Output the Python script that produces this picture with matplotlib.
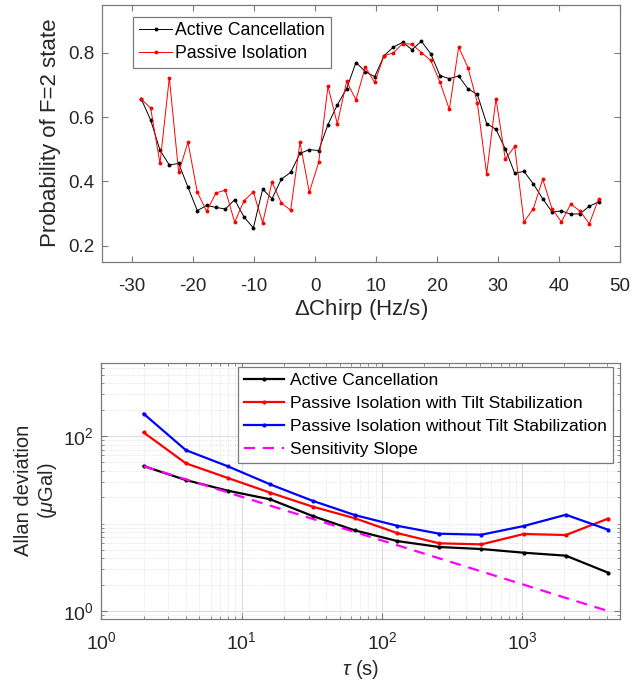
import matplotlib
matplotlib.use("Agg")
import matplotlib.pyplot as plt
from matplotlib.ticker import LogLocator, FixedLocator, NullFormatter

plt.rcParams['font.family'] = ['Liberation Sans', 'DejaVu Sans']
plt.rcParams['axes.unicode_minus'] = False
plt.rcParams['mathtext.default'] = 'regular'
plt.rcParams['mathtext.fontset'] = 'custom'
plt.rcParams['mathtext.rm'] = 'Liberation Sans'
plt.rcParams['mathtext.it'] = 'Liberation Sans:italic'

# ---------------- data: top panel ----------------
chirp = [-28.5, -26.97, -25.44, -23.91, -22.38, -20.85, -19.32, -17.79, -16.26, -14.72,
         -13.19, -11.66, -10.13, -8.60, -7.07, -5.54, -4.01, -2.48, -0.95, 0.58,
         2.11, 3.64, 5.17, 6.70, 8.23, 9.77, 11.30, 12.83, 14.36, 15.89,
         17.42, 18.95, 20.48, 22.01, 23.54, 25.07, 26.60, 28.13, 29.66, 31.19,
         32.72, 34.26, 35.79, 37.32, 38.85, 40.38, 41.91, 43.44, 44.97, 46.5]
active_prob = [0.656, 0.591, 0.497, 0.451, 0.456, 0.382, 0.309, 0.325, 0.319, 0.314,
               0.343, 0.289, 0.255, 0.376, 0.346, 0.407, 0.428, 0.487, 0.499, 0.496,
               0.577, 0.638, 0.689, 0.770, 0.742, 0.726, 0.791, 0.818, 0.833, 0.810,
               0.836, 0.798, 0.729, 0.720, 0.728, 0.688, 0.671, 0.580, 0.562, 0.501,
               0.426, 0.431, 0.392, 0.346, 0.305, 0.308, 0.298, 0.299, 0.323, 0.336]
passive_prob = [0.656, 0.628, 0.456, 0.723, 0.428, 0.522, 0.366, 0.307, 0.364, 0.373,
                0.273, 0.340, 0.367, 0.271, 0.398, 0.333, 0.310, 0.522, 0.366, 0.459,
                0.696, 0.579, 0.711, 0.654, 0.756, 0.708, 0.791, 0.800, 0.829, 0.827,
                0.801, 0.777, 0.709, 0.624, 0.818, 0.754, 0.645, 0.423, 0.658, 0.469,
                0.509, 0.274, 0.315, 0.407, 0.315, 0.274, 0.329, 0.308, 0.268, 0.346]

# ---------------- data: bottom panel ----------------
tau = [2, 4, 8, 16, 32, 64, 128, 256, 512, 1024, 2048, 4096]
adev_active = [45.4, 31.4, 23.7, 18.9, 12.2, 8.36, 6.31, 5.39, 5.11, 4.64, 4.29, 2.74]
adev_passive_tilt = [110, 48.8, 33.1, 22.5, 15.6, 11.5, 7.79, 5.94, 5.78, 7.59, 7.39, 11.4]
adev_passive_notilt = [180, 69, 45, 28, 18.2, 12.5, 9.44, 7.65, 7.45, 9.36, 12.6, 8.49]
sens_slope = [45.25, 32.0, 22.63, 16.0, 11.31, 8.0, 5.66, 4.0, 2.83, 2.0, 1.41, 1.0]

top_labels = ['Active Cancellation', 'Passive Isolation']
bot_labels = ['Active Cancellation', 'Passive Isolation with Tilt Stabilization',
              'Passive Isolation without Tilt Stabilization', 'Sensitivity Slope']

W, H = 641, 682
fig = plt.figure(figsize=(W / 100, H / 100), dpi=100)

edge = '#7a7a7a'
txt = '#262626'

def style(ax, size, xpad):
    for s in ax.spines.values():
        s.set_color(edge)
        s.set_linewidth(0.9)
    ax.tick_params(which='both', direction='in', top=True, right=True,
                   colors=edge, labelcolor=txt, labelsize=size)
    ax.tick_params(which='major', length=4)
    ax.tick_params(which='minor', length=2.5)
    ax.tick_params(axis='x', which='major', pad=xpad)
    ax.tick_params(axis='y', which='major', pad=5.5)

# ---------------- top panel ----------------
ax1 = fig.add_axes([101.7 / W, 1 - 261.7 / H, (620 - 101.7) / W, (261.7 - 4.7) / H])
ax1.plot(chirp, active_prob, color='black', lw=0.7, marker='o', ms=2.8, mew=0,
         label=top_labels[0])
ax1.plot(chirp, passive_prob, color='red', lw=0.7, marker='o', ms=2.8, mew=0,
         label=top_labels[1])
ax1.set_xlim(-35, 50)
ax1.set_ylim(0.15, 0.95)
ax1.set_xticks([-30, -20, -10, 0, 10, 20, 30, 40, 50])
ax1.set_yticks([0.2, 0.4, 0.6, 0.8])
ax1.set_yticklabels(['0.2', '0.4', '0.6', '0.8'])
style(ax1, 13.5, 11.5)
ax1.set_xlabel(r'$\Delta$Chirp (Hz/s)', fontsize=16, color=txt, labelpad=2)
ax1.set_ylabel('Probability of F=2 state', fontsize=16, color=txt, labelpad=5)
leg1 = ax1.legend(loc='upper left', bbox_to_anchor=(0.061, 0.953), borderaxespad=0,
                  fontsize=12.7, frameon=True, fancybox=False, framealpha=1,
                  edgecolor=edge, handlelength=1.9, handletextpad=0.15,
                  labelspacing=0.33, borderpad=0.32)
leg1.get_frame().set_linewidth(0.9)

# ---------------- bottom panel ----------------
ax2 = fig.add_axes([101.4 / W, 1 - 619 / H, (620.3 - 101.4) / W, (619 - 362.7) / H])
ax2.plot(tau, adev_active, color='black', lw=1.6, marker='o', ms=3, mew=0,
         label=bot_labels[0])
ax2.plot(tau, adev_passive_tilt, color='red', lw=1.6, marker='o', ms=3, mew=0,
         label=bot_labels[1])
ax2.plot(tau, adev_passive_notilt, color='blue', lw=1.6, marker='o', ms=3, mew=0,
         label=bot_labels[2])
ax2.plot(tau, sens_slope, color='magenta', lw=1.6, ls=(0, (5, 3.5)),
         label=bot_labels[3])
ax2.set_xscale('log')
ax2.set_yscale('log')
ax2.set_xlim(1, 5000)
ax2.set_ylim(0.81, 690)
ax2.xaxis.set_major_locator(FixedLocator([1, 10, 100, 1000]))
ax2.yaxis.set_major_locator(FixedLocator([1, 100]))
ax2.xaxis.set_minor_locator(LogLocator(base=10, subs=range(2, 10), numticks=20))
ymin = [k * 10 ** e for e in (-1, 0, 1, 2) for k in range(1, 10)]
ymin = [v for v in ymin if v not in (1, 100)]
ax2.yaxis.set_minor_locator(FixedLocator(ymin))
ax2.xaxis.set_minor_formatter(NullFormatter())
ax2.yaxis.set_minor_formatter(NullFormatter())
ax2.set_xticklabels([r'$10^{0}$', r'$10^{1}$', r'$10^{2}$', r'$10^{3}$'])
ax2.set_yticklabels([r'$10^{0}$', r'$10^{2}$'])
style(ax2, 14, 9)
ax2.grid(True, which='major', color='#dcdcdc', lw=0.8, ls='-')
ax2.grid(True, which='minor', color='#e2e2e2', lw=0.7, ls=(0, (1, 1.5)))
ax2.set_axisbelow(True)
ax2.set_xlabel(r'$\mathit{\tau}$ (s)', fontsize=14.5, color=txt, labelpad=3)
ax2.set_ylabel('Allan deviation\n(' + r'$\mathit{\mu}$' + 'Gal)', fontsize=14.5,
               color=txt, labelpad=3, linespacing=1.15)
leg2 = ax2.legend(loc='upper right', bbox_to_anchor=(0.985, 0.984), borderaxespad=0,
                  fontsize=12.5, frameon=True, fancybox=False, framealpha=1,
                  edgecolor=edge, handlelength=2.3, handletextpad=0.3,
                  labelspacing=0.45, borderpad=0.35)
leg2.get_frame().set_linewidth(0.9)

fig.savefig('out.png', dpi=100)
